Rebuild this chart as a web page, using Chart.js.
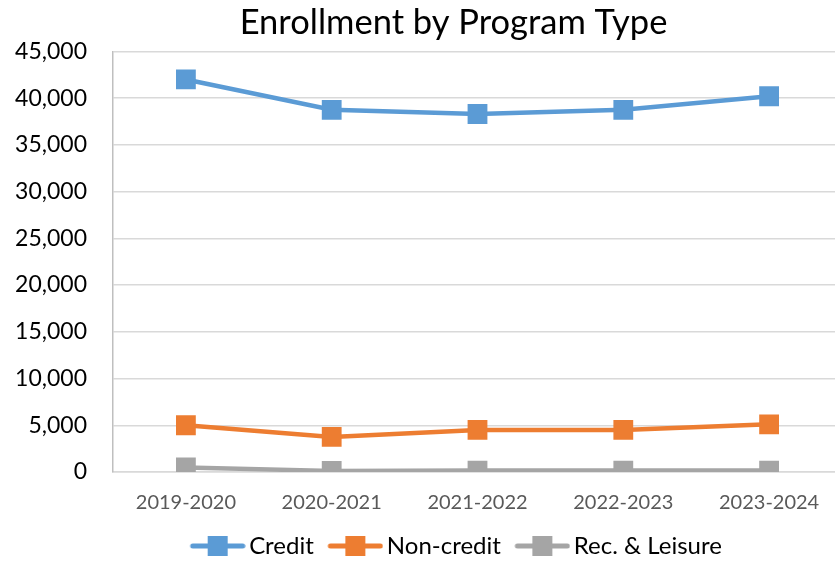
<!DOCTYPE html>
<html>
<head>
<meta charset="utf-8">
<script src="https://cdn.jsdelivr.net/npm/chart.js@4.4.1/dist/chart.umd.min.js"></script>
<style>
    html, body { margin: 0; padding: 0; background: #ffffff; }
    #wrap { width: 835px; height: 563px; overflow: hidden; position: relative; }
    #box { width: 907px; height: 563px; position: absolute; left: 0; top: 0; }
</style>
</head>
<body>
<div id="wrap"><div id="box"><canvas id="enrollmentChart"></canvas></div></div>
<script>
// data
const years = ['2019-2020', '2020-2021', '2021-2022', '2022-2023', '2023-2024'];
const credit = [42000, 38750, 38300, 38750, 40200];
const nonCredit = [5000, 3750, 4500, 4500, 5100];
const recLeisure = [480, 120, 150, 150, 150];
const yTicks = [0, 5000, 10000, 15000, 20000, 25000, 30000, 35000, 40000, 45000];

const blue = '#5B9BD5';
const orange = '#ED7D31';
const gray = '#A5A5A5';

// legend icon: short line with a square in the middle,
// drawn at the right side of the canvas so it sits close to its text
function legendIcon(color) {
    const c = document.createElement('canvas');
    c.width = 69;
    c.height = 22;
    const g = c.getContext('2d');
    const left = 13;
    g.strokeStyle = color;
    g.lineWidth = 5;
    g.lineCap = 'round';
    g.beginPath();
    g.moveTo(left + 3, 11);
    g.lineTo(left + 53, 11);
    g.stroke();
    g.fillStyle = color;
    g.fillRect(left + 18, 1, 20, 20);
    return c;
}

const icons = [legendIcon(blue), legendIcon(orange), legendIcon(gray)];

function series(label, values, color) {
    return {
        label: label,
        data: values,
        borderColor: color,
        backgroundColor: color,
        borderWidth: 4.5,
        pointStyle: 'rect',
        pointRadius: 14,
        pointHoverRadius: 14,
        pointBorderWidth: 0,
        pointBackgroundColor: color,
        tension: 0
    };
}

const ctx = document.getElementById('enrollmentChart');

new Chart(ctx, {
    type: 'line',
    data: {
        labels: years,
        datasets: [
            series('Credit', credit, blue),
            series('Non-credit', nonCredit, orange),
            series('Rec. & Leisure', recLeisure, gray)
        ]
    },
    options: {
        responsive: true,
        maintainAspectRatio: false,
        animation: false,
        layout: { padding: { left: 0, right: 0, top: 0, bottom: -5 } },
        plugins: {
            title: {
                display: true,
                text: 'Enrollment by Program Type',
                color: '#000000',
                font: { family: 'Lato', size: 34.5, weight: 'normal' },
                padding: { top: 2, bottom: 8 }
            },
            legend: {
                position: 'bottom',
                labels: {
                    usePointStyle: true,
                    pointStyleWidth: 52,
                    boxHeight: 22,
                    padding: 9,
                    color: '#000000',
                    font: { family: 'Lato', size: 24 },
                    generateLabels: function (chart) {
                        const items = Chart.defaults.plugins.legend.labels.generateLabels(chart);
                        items.forEach(function (it, i) { it.pointStyle = icons[i]; });
                        return items;
                    }
                }
            },
            tooltip: { enabled: false }
        },
        scales: {
            x: {
                offset: true,
                grid: { display: false },
                border: { display: true, color: '#d9d9d9', width: 1.5 },
                ticks: {
                    color: '#595959',
                    font: { family: 'Lato', size: 20 },
                    padding: 11,
                    maxRotation: 0
                },
                afterFit: function (scale) { scale.height = 53; }
            },
            y: {
                min: 0,
                max: 45000,
                afterBuildTicks: function (scale) {
                    scale.ticks = yTicks.map(function (v) { return { value: v }; });
                },
                grid: { color: '#d9d9d9', lineWidth: 1.5, drawTicks: false },
                border: { display: true, color: '#bfbfbf', width: 1.5 },
                ticks: {
                    color: '#000000',
                    font: { family: 'Lato', size: 23 },
                    padding: 26,
                    callback: function (v) { return Number(v).toLocaleString('en-US'); }
                },
                afterFit: function (scale) { scale.width = 113; }
            },
            // empty axis on the right, only reserves the space cut off by the crop
            yRight: {
                position: 'right',
                grid: { display: false },
                border: { display: false },
                ticks: { display: false },
                afterFit: function (scale) { scale.width = 65; }
            }
        }
    }
});
</script>
</body>
</html>
